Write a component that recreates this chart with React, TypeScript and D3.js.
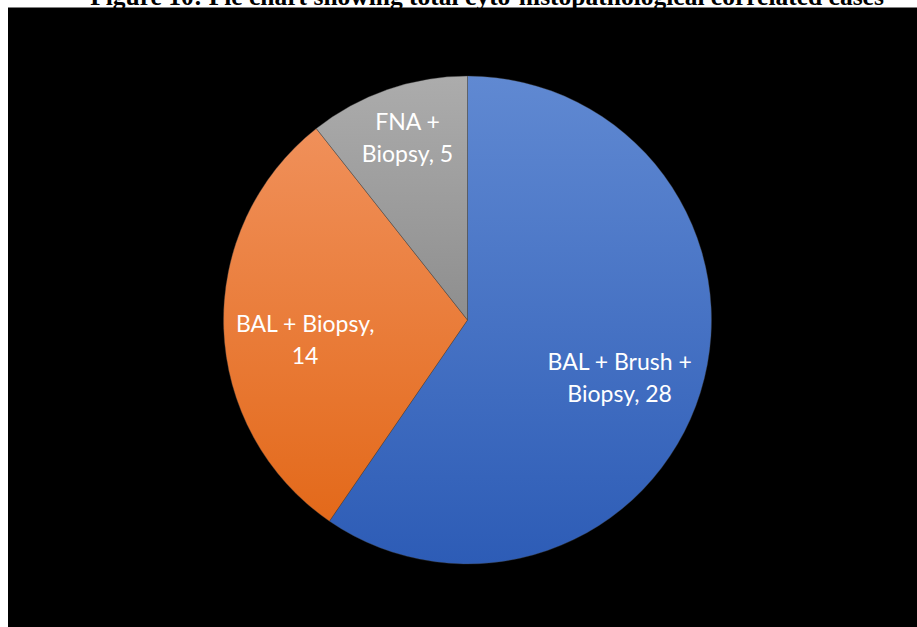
import React from "react";
import * as d3 from "d3";

const categories = ["BAL + Brush + Biopsy", "BAL + Biopsy", "FNA + Biopsy"];
const values = [28, 14, 5];
const labelLines = [
  ["BAL + Brush +", "Biopsy, 28"],
  ["BAL + Biopsy,", "14"],
  ["FNA +", "Biopsy, 5"],
];
const gradTop = ["#6089d2", "#f0905a", "#acacac"];
const gradBottom = ["#2d5cb6", "#e3691a", "#8e8e8e"];
const title = "Figure 10: Pie chart showing total cyto-histopathological correlated cases";

const W = 917;
const H = 627;
const cx = 467.5;
const cy = 320;
const R = 244;

export default function App() {
  const pie = d3.pie<number>().sort(null).value((d) => d);
  const arcs = pie(values);
  const arc = d3.arc<d3.PieArcDatum<number>>().innerRadius(0).outerRadius(R);
  const labelFactor = [0.64, 0.67, 0.8];
  const nudgeX = [3, 1, 4];
  const nudgeY = [12, 15, 2];
  return (
    <svg width={W} height={H} style={{ position: "absolute", left: 0, top: 0 }}>
      <defs>
        {categories.map((c, i) => (
          <linearGradient key={c} id={`g${i}`} x1="0" y1="0" x2="0" y2="1">
            <stop offset="0" stopColor={gradTop[i]} />
            <stop offset="1" stopColor={gradBottom[i]} />
          </linearGradient>
        ))}
      </defs>
      <rect x={0} y={0} width={W} height={H} fill="#fff" />
      <text
        x={487}
        y={5}
        textAnchor="middle"
        fontFamily="Liberation Serif, Times New Roman, serif"
        fontWeight="bold"
        fontSize={25.5}
        fill="#000"
      >
        {title}
      </text>
      <rect x={8} y={7.5} width={W - 8} height={H - 7.5} fill="#000" />
      <g transform={`translate(${cx},${cy})`}>
        {arcs.map((a, i) => (
          <path key={categories[i]} d={arc(a) || ""} fill={`url(#g${i})`} stroke="#404040" strokeWidth={0.6} strokeOpacity={0.6} />
        ))}
        {arcs.map((a, i) => {
          const mid = (a.startAngle + a.endAngle) / 2;
          const rr = R * labelFactor[i];
          const x = Math.sin(mid) * rr + nudgeX[i];
          const y = -Math.cos(mid) * rr + nudgeY[i];
          return (
            <text
              key={"l" + i}
              x={x}
              y={y}
              textAnchor="middle"
              fontFamily="Lato, Carlito, Calibri, sans-serif"
              fontSize={23}
              fill="#fff"
            >
              {labelLines[i].map((ln, j) => (
                <tspan key={j} x={x} y={y + (j - 0.5) * 32 + 8}>
                  {ln}
                </tspan>
              ))}
            </text>
          );
        })}
      </g>
    </svg>
  );
}
